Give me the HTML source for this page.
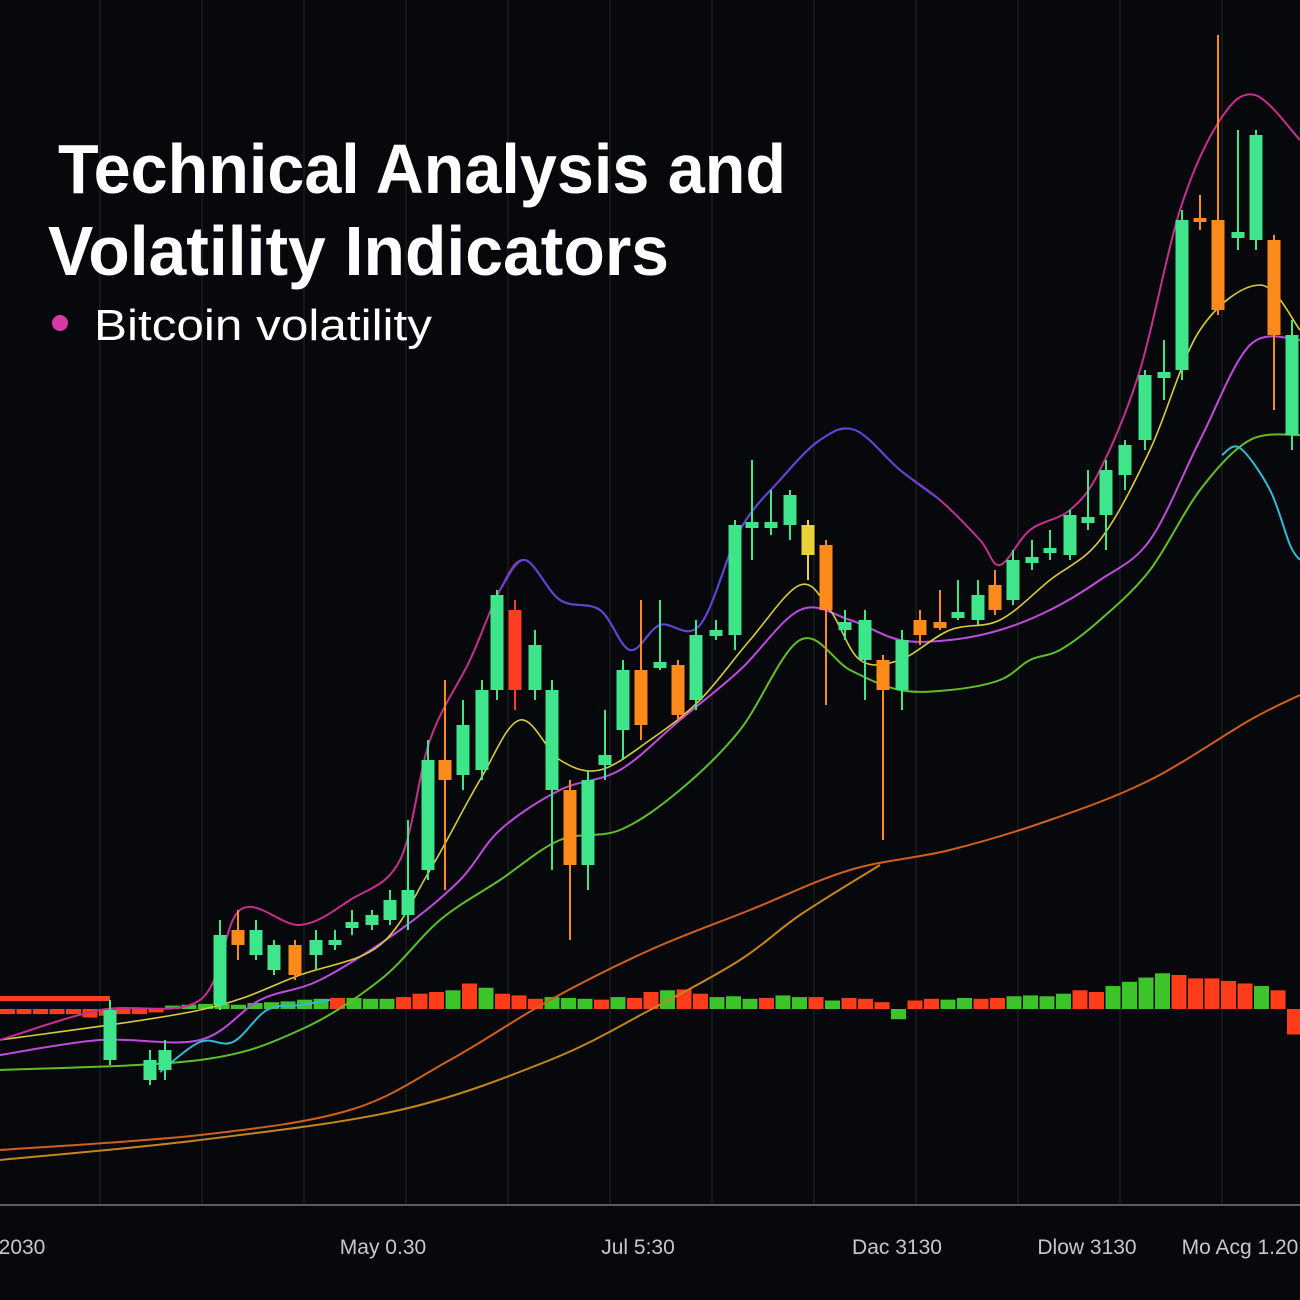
<!DOCTYPE html>
<html><head><meta charset="utf-8"><style>
html,body{margin:0;padding:0;background:#07080b;}
svg{display:block;}
</style></head><body>
<svg id="chart" width="1300" height="1300" viewBox="0 0 1300 1300" xmlns="http://www.w3.org/2000/svg">
<rect width="1300" height="1300" fill="#07080b"/>
<g id="grid"></g>
<g id="volume"></g>
<g id="lines"></g>
<g id="candles"></g>
<line x1="0" y1="1205" x2="1300" y2="1205" stroke="#5a5c60" stroke-width="2"/>
<g id="xlabels" font-family="Liberation Sans, sans-serif" font-size="21" fill="#c8c8c8"></g>
<text x="58" y="193" font-family="Liberation Sans, sans-serif" font-weight="bold" font-size="70" fill="#fff" textLength="728" lengthAdjust="spacingAndGlyphs">Technical Analysis and</text>
<text x="48" y="275" font-family="Liberation Sans, sans-serif" font-weight="bold" font-size="70" fill="#fff" textLength="621" lengthAdjust="spacingAndGlyphs">Volatility Indicators</text>
<g>
<circle cx="60" cy="323" r="8" fill="#d63aa8"/>
<text x="94" y="340" font-family="Liberation Sans, sans-serif" font-size="44" fill="#fff" textLength="338" lengthAdjust="spacingAndGlyphs">Bitcoin volatility</text>
</g>
</svg>
<script>
const NS='http://www.w3.org/2000/svg';
const candleDays=[11,15,16.5,22,23.8,25.6,27.4,29.5,31.6,33.5,35.2,37.2,39,40.8,42.8,44.5,46.3,48.2,49.7,51.5,53.5,55.2,57,58.8,60.5,62.3,64.1,66,67.8,69.6,71.6,73.5,75.2,77.1,79,80.8,82.6,84.5,86.5,88.3,90.2,92,94,95.8,97.8,99.5,101.3,103.2,105,107,108.8,110.6,112.5,114.5,116.4,118.2,120,121.8,123.8,125.6,127.4,129.2];
const opens =[14,12,13,19.5,27,24.5,23,25.5,24.5,25.5,27.2,27.5,28,28.5,33,44,42.5,43,51,59,51,41,41,33.5,43.5,47,53,53.2,53.5,50,56.4,56.5,67.2,67.2,67.5,67.5,65.5,57,54,54,51,58,57.8,58.2,58,61.5,60,63.7,64.7,64.5,67.7,68.5,72.5,76,82.2,83,98.2,98,96.2,96,96,76.5];
const closes=[19,14,15,26.5,25.5,27,25.5,22.5,26,26,27.8,28.5,30,31,44,42,47.5,51,60.5,51,55.5,51,33.5,42,44.5,53,47.5,53.8,48.5,56.5,57,67.5,67.8,67.8,70.5,64.5,59,57.8,58,51,56,56.5,57.2,58.8,60.5,59,64,64.3,65.2,68.5,68.3,73,75.5,82.5,82.8,98,97.8,89,96.8,106.5,86.5,86.5];
const highs =[20,15,16,28,29,28,26,26,27,27,29,29,31,38,46,52,50,52,61,60,57,52,42,43,49,54,60,60,54,58,58,68,74,71,71,68,66,59,59,54.5,57,59,61,62,62,63,65,66,67,69,73,74,76,83,86,99,100.5,116.5,107,107,96.5,88];
const lows  =[13.5,11.5,12,19,24,24,22.5,22,23,25,26.5,27,27.5,27,32,31,41,42,50,49,50,33,26,31,42,44,46,53,48,49,56,55,64,66.5,66,62,49.5,56,50,36,49,55.5,57,58,57.5,58.5,59.5,63,64,64,67,65,71,75,80,82,97,88.5,95,95,79,75];
const candleKinds=['g','g','g','g','o','g','g','o','g','g','g','g','g','g','g','o','g','g','g','r','g','g','o','g','g','g','o','g','o','g','g','g','g','g','g','y','o','g','g','o','g','o','o','g','g','o','g','g','g','g','g','g','g','g','g','g','o','o','g','g','o','g'];
const volValues=[-6,-6,-6,-6,-6,-10,-8,-6,-6,-4,4,5,6,6,5,7,8,9,11,12,13,13,12,12,14,18,20,22,30,25,18,16,12,14,13,12,11,14,13,20,22,23,18,14,15,12,13,16,14,14,10,13,12,8,-12,10,12,11,13,12,13,15,16,15,18,22,20,27,32,37,42,40,36,36,33,30,27,22,-30];
const volKinds='rrrrrrrrrrggggggggggrgggrrrgrgrrrgggrgrrgrrgggrggrgrrrgrrggrrggggrrggggrrrrrgrr';
const upperDays=[0,10,20,24,30,35,40,43,47,50,52.5,56,60,63,66,70,74,78,82,85.5,90,94,98,100,103,107,110,114,118,122,125.5,130];
const upperVals=[16,19,20,29,27.5,30,34,46,54,61,64,60,59,55,57.5,57.5,67,72,76,77,73,70,66,63.5,67,69,73,83,99,108,110.5,106];
const yellowDays=[0,20,30,38,43,48,52,56,60,65,70,75,80,83,86,90,95,100,105,110,115,120,126,130];
const yellowVals=[16,19,22.5,25.5,33,42,48,44,43,46,50,56,61.5,59,54,54,57,58,62,66,75,87,91.5,87];
const magentaDays=[0,10,20,26,32,40,46,50,56,62,68,74,80,85,90,95,100,105,110,115,120,125,130];
const magentaVals=[14.5,16,16,20,22,27,32,37,41,43,48,53,59,58,56,56,57,59,62,66,76,85.5,86];
const greenDays=[0,20,30,38,44,50,56,62,68,74,80,85,90,95,100,103,106,110,115,120,125,130];
const greenVals=[13,14,17,22,28,32,36,37,41,47,56,53,51,51,52,54,55,58,63,71,76,76.5];
const slowDays=[0,20,35,45,55,65,75,85,95,105,115,125,130];
const slowVals=[5,6.5,9,14,20,25,29,33,35,38,42,48,50.5];
const slow2Days=[0,20,40,55,65,74,80,88];
const slow2Vals=[4,6,9,14,19,24,28.5,33.5];
const cyanDays=[16,20,23.3,26.7,30,33];
const cyanVals=[12.8,15.8,15.8,19,19.5,20];
const cyan2Days=[122.2,124,127,129,130];
const cyan2Vals=[74.5,75.2,71,65.5,64];
const xTicks=['2030','May 0.30','Jul 5:30','Dac 3130','Dlow 3130','Mo Acg 1.20'];
const xTickDays=[2.2,38.3,63.8,89.7,108.7,124];

const X=d=>d*10;
const Y=v=>1200-v*10;
const VBASE=1009, VSCALE=0.85;
const colors={g:'#3fe58a',o:'#ff8a1c',r:'#ff3d22',y:'#e8d43a'};

const grid=document.getElementById('grid');
for(let gx=100;gx<1300;gx+=102){
  const l=document.createElementNS(NS,'line');
  l.setAttribute('x1',gx);l.setAttribute('x2',gx);l.setAttribute('y1',0);l.setAttribute('y2',1205);
  l.setAttribute('stroke','#15171b');l.setAttribute('stroke-width','2');
  
  
  grid.appendChild(l);
}

const vol=document.getElementById('volume');
const hb=document.createElementNS(NS,'rect');
hb.setAttribute('x',0);hb.setAttribute('y',996);hb.setAttribute('width',110);hb.setAttribute('height',5);hb.setAttribute('fill','#ff3d22');


vol.appendChild(hb);
volValues.forEach((v,i)=>{
  const r=document.createElementNS(NS,'rect');
  const x=i*16.5;
  const h=Math.abs(v)*VSCALE;
  r.setAttribute('x',x);r.setAttribute('width',15);
  r.setAttribute('y',v>=0?VBASE-h:VBASE);
  r.setAttribute('height',h);
  r.setAttribute('fill',volKinds[i]==='g'?'#3cc42a':'#ff3d1a');
  
  
  vol.appendChild(r);
});

const lines=document.getElementById('lines');
function addLine(days,vals,color,name,w){
  const pts=days.map((dd,i)=>[X(dd),Y(vals[i])]);
  let d='M'+pts[0][0]+' '+pts[0][1];
  for(let i=0;i<pts.length-1;i++){
    const p0=pts[Math.max(0,i-1)],p1=pts[i],p2=pts[i+1],p3=pts[Math.min(pts.length-1,i+2)];
    const c1=[p1[0]+(p2[0]-p0[0])/6,p1[1]+(p2[1]-p0[1])/6];
    const c2=[p2[0]-(p3[0]-p1[0])/6,p2[1]-(p3[1]-p1[1])/6];
    d+='C'+c1[0]+' '+c1[1]+' '+c2[0]+' '+c2[1]+' '+p2[0]+' '+p2[1];
  }
  const p=document.createElementNS(NS,'path');
  p.setAttribute('d',d);p.setAttribute('fill','none');p.setAttribute('stroke',color);
  p.setAttribute('stroke-width',w||2);p.setAttribute('stroke-linejoin','round');
  
  
  lines.appendChild(p);
}
addLine(slow2Days,slow2Vals,'#c7841e','slow-ma-2-line',2);
addLine(slowDays,slowVals,'#d0601a','slow-ma-line',2);
addLine(greenDays,greenVals,'#5fbf2a','green-ma-line',2);
addLine(magentaDays,magentaVals,'#c04ae0','magenta-ma-line',2);
addLine(yellowDays,yellowVals,'#d8cc3a','yellow-ma-line',1.6);
addLine(upperDays,upperVals,'#c62f8e','upper-band-line',2);
addLine(upperDays.slice(9,22),upperVals.slice(9,22),'#5a46d8','upper-band-purple-line',2);
addLine(cyanDays,cyanVals,'#33b8d8','cyan-line',2);
addLine(cyan2Days,cyan2Vals,'#33b8d8','cyan-line-2',2);

const cg=document.getElementById('candles');
candleDays.forEach((d,i)=>{
  const c=colors[candleKinds[i]];
  const x=X(d);
  const w=document.createElementNS(NS,'line');
  w.setAttribute('x1',x);w.setAttribute('x2',x);w.setAttribute('y1',Y(highs[i]));w.setAttribute('y2',Y(lows[i]));
  w.setAttribute('stroke',c);w.setAttribute('stroke-width',2);
  
  
  cg.appendChild(w);
  const top=Math.max(opens[i],closes[i]),bot=Math.min(opens[i],closes[i]);
  const b=document.createElementNS(NS,'rect');
  b.setAttribute('x',x-6.5);b.setAttribute('width',13);
  b.setAttribute('y',Y(top));b.setAttribute('height',Math.max(4,(top-bot)*10));
  b.setAttribute('fill',c);
  
  
  cg.appendChild(b);
});

const xl=document.getElementById('xlabels');
xTicks.forEach((t,i)=>{
  const tx=document.createElementNS(NS,'text');
  tx.setAttribute('x',X(xTickDays[i]));tx.setAttribute('y',1254);
  tx.setAttribute('text-anchor','middle');
  tx.textContent=t;
  
  
  xl.appendChild(tx);
});
</script>
</body></html>
